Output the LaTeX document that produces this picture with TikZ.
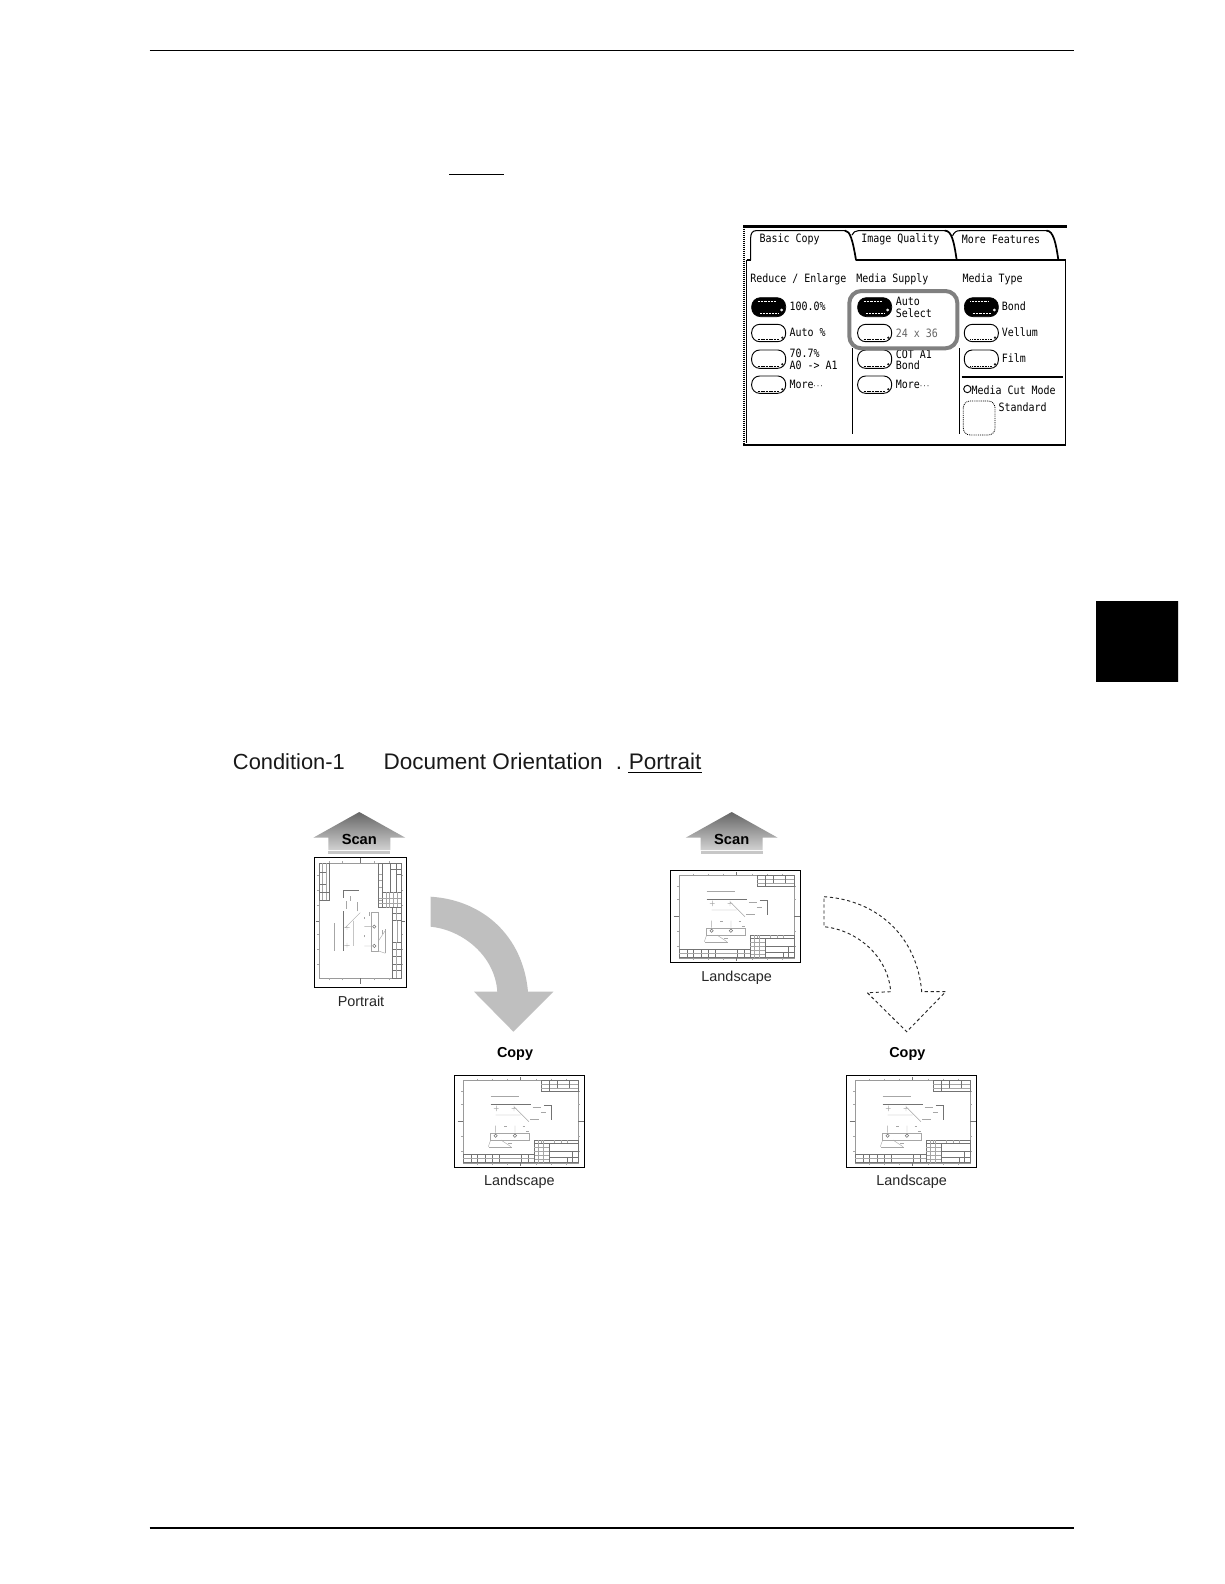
\documentclass[tikz,border=0pt]{standalone}
\usepackage{fontspec}
\setmainfont{Liberation Sans}
\newfontfamily\panelfont[FakeStretch=0.87]{DejaVu Sans Mono}
\usetikzlibrary{shapes.misc}
\definecolor{arrowgray}{HTML}{BFBFBF}
\definecolor{boxgray}{HTML}{808080}
\definecolor{linegray}{HTML}{9A9A9A}
\tikzset{
  rule/.style={line width=1.1pt,black},
  sheetbox/.style={draw=black,line width=1pt,fill=white},
  thin line/.style={line width=.3pt,draw=linegray},
  dark line/.style={line width=.4pt,draw=black!55},
  fine/.style={line width=.3pt,draw=black!35},
  title/.style={font=\fontsize{16.9}{18}\selectfont,anchor=base west,inner sep=0pt,text=black!90},
  caption/.style={font=\fontsize{10.8}{12}\selectfont,inner sep=0pt,text=black!85},
  boldlabel/.style={font=\bfseries\fontsize{10.8}{12}\selectfont,inner sep=0pt},
  ptxt/.style={font=\panelfont\fontsize{8.6}{10}\selectfont,anchor=west,inner sep=0pt,text=black},
  pillblack/.style={fill=black,draw=black,line width=.5pt,rounded corners=6.5pt},
  pillwhite/.style={fill=white,draw=black,line width=.7pt,rounded corners=6pt},
  pdot/.style={line width=.55pt,dash pattern=on .55pt off .55pt},
  panelline/.style={line width=.8pt,black},
  paneltab/.style={line width=.8pt,black,line cap=round},
  tabslant/.style={line width=1.3pt,black,line cap=round},
}
\newcommand{\sheetdetail}{%
  \draw[thin line] (27,14) rectangle (372,261);
  \foreach \tx in {70,115,160,245,290,335}{\draw[fine] (\tx,9)--(\tx,14) (\tx,261)--(\tx,267);}
  \foreach \ty in {45,85,180,225}{\draw[fine] (21,\ty)--(27,\ty) (372,\ty)--(378,\ty);}
  \draw[dark line] (199,4)--(199,14) (199,261)--(199,271) (10,137)--(27,137) (372,137)--(388,137);
  \draw[dark line] (261,14) rectangle (372,46);
  \draw[fine] (261,25)--(372,25) (261,36)--(372,36);
  \draw[dark line] (285,14)--(285,36) (310,14)--(310,36) (345,14)--(345,36) (285,36)--(285,46);
  \draw[dark line] (239,193) rectangle (372,261);
  \draw[dark line] (239,203)--(372,203) (285,203)--(285,261) (285,228)--(372,228) (285,246)--(372,246);
  \foreach \tx in {252,266}{\draw[fine] (\tx,193)--(\tx,261);}
  \foreach \ty in {215,226,238,249}{\draw[fine] (239,\ty)--(285,\ty);}
  \foreach \tx in {260,300,320,340}{\draw[fine] (\tx,193)--(\tx,203);}
  \draw[dark line] (340,246)--(340,261) (355,228)--(355,261);
  \draw[dark line] (27,235) rectangle (239,261);
  \foreach \tx in {50,70,92,113,136,200,222}{\draw[dark line] (\tx,235)--(\tx,261);}
  \draw[fine] (27,247)--(136,247) (136,248)--(200,248) (200,247)--(239,247);
  \draw[fine] (109,60)--(194,60);
  \draw[dark line] (109,86)--(229,86);
  \draw[fine] (179,93)--(224,138) (124,118)--(199,118) (126,90)--(126,106) (119,98)--(133,98) (179,90)--(179,106) (172,98)--(186,98);
  \draw[dark line] (269,88)--(291,88)--(291,133);
  \draw[fine] (235,95)--(260,95) (260,108)--(275,108) (228,130)--(255,130) (150,150)--(157,150) (205,150)--(212,150);
  \draw[fine] (109,171) rectangle (224,193);
  \draw[dark line] (124,180) circle[radius=5] (182,180) circle[radius=5];
  \draw[fine] (124,150)--(124,171) (182,150)--(182,171) (109,193)--(102,213) (140,193)--(170,213);
  \draw[fine] (160,203)--(172,203) (104,213)--(174,213) (215,165)--(225,165);
}
\begin{document}
\begin{tikzpicture}[x=.75pt,y=-.75pt]
\useasboundingbox (0,0) rectangle (1224,1584);
\fill[white] (0,0) rectangle (1224,1584);
% page rules
\coordinate (ruleTopL) at (149.5,50.5);
\coordinate (ruleTopR) at (1074,50.5);
\coordinate (ruleBotL) at (149.5,1528);
\coordinate (ruleBotR) at (1074,1528);
\draw[rule] (ruleTopL)--(ruleTopR);
\draw[rule] (ruleBotL)--(ruleBotR);
\draw[line width=.85pt] (449,174.3)--(504,174.3);
\fill[black] (1096,601) rectangle (1178,681.7);
\fill[black!15] (1178,601) rectangle (1179,681.7);
% panel
\begin{scope}[shift={(730,215)},x=.25pt,y=-.25pt]
  \draw[line width=1.8pt] (40,35)--(1010,35);
  \draw[line width=1.3pt,dash pattern=on .8pt off .7pt] (41,35)--(41,692);
  \draw[line width=1.5pt] (40,689)--(1008,689);
  \draw[panelline] (50,135)--(50,685);
  \draw[panelline] (1007,135)--(1007,688);
  \draw[panelline] (50,135)--(62,135);
  \draw[panelline] (378,135)--(1007,135);
  \draw[paneltab] (62,135)--(62,68) .. controls (62,55) and (68,47) .. (78,47)--(345,47);
  \draw[tabslant] (345,47) .. controls (360,47) and (368,75) .. (378,135);
  \draw[paneltab] (366,60) .. controls (370,52) and (375,47) .. (385,47)--(645,47);
  \draw[tabslant] (645,47) .. controls (665,47) and (672,80) .. (680,135);
  \draw[paneltab] (668,62) .. controls (672,52) and (678,47) .. (690,47)--(950,47);
  \draw[tabslant] (950,47) .. controls (970,47) and (978,85) .. (985,135);
  \node[ptxt] (tabA) at (88,72) {Basic Copy};
  \node[ptxt] (tabB) at (393,72) {Image Quality};
  \node[ptxt] (tabC) at (695,72) {More Features};
  \node[ptxt] (hA) at (60,194) {Reduce / Enlarge};
  \node[ptxt] (hB) at (378,194) {Media Supply};
  \node[ptxt] (hC) at (697,194) {Media Type};
  % separators
  \draw[panelline] (368,400)--(368,658);
  \draw[panelline] (688,400)--(688,658);
  \draw[line width=1.3pt] (695,485)--(1000,485);
  % pills
  \foreach \px in {65,383,703}{
    \draw[pillblack] (\px,248) rectangle ++(102,57);
    \draw[white,pdot] (\px+18,258)--(\px+72,258) (\px+25,295)--(\px+82,295);
    \draw[white,line width=.5pt] (\px+90,285) circle[radius=3];
    \foreach \py/\ph in {328/52,405/55}{
      \draw[pillwhite] (\px,\py) rectangle ++(102,\ph);
      \draw[line width=.9pt,dash pattern=on .8pt off .4pt] (\px+18,\py+\ph-6)--(\px+82,\py+\ph-6);
      \draw[line width=.4pt] (\px+92,\py+\ph-12) circle[radius=2.5];
    }
  }
  \foreach \px in {65,383}{
    \draw[pillwhite] (\px,483) rectangle ++(102,52);
    \draw[line width=.9pt,dash pattern=on .8pt off .4pt] (\px+18,529)--(\px+82,529);
    \draw[line width=.4pt] (\px+92,523) circle[radius=2.5];
  }
  \node[ptxt] (a1) at (178,275) {100.0\%};
  \node[ptxt] (a2) at (178,352) {Auto \%};
  \node[ptxt] (a3) at (178,415) {70.7\%};
  \node[ptxt] (a4) at (178,450) {A0 -> A1};
  \node[ptxt] (a5) at (178,507) {More\kern-.5pt{\fontsize{5}{6}\selectfont ···}};
  \node[ptxt] (b1) at (497,258) {Auto};
  \node[ptxt] (b2) at (497,295) {Select};
  \node[ptxt,text=black!60] (b3) at (497,355) {24 x 36};
  \node[ptxt] (b4) at (497,418) {COT A1};
  \node[ptxt] (b5) at (497,452) {Bond};
  \node[ptxt] (b6) at (497,507) {More\kern-.5pt{\fontsize{5}{6}\selectfont ···}};
  \node[ptxt] (c1) at (815,275) {Bond};
  \node[ptxt] (c2) at (815,352) {Vellum};
  \node[ptxt] (c3) at (815,430) {Film};
  \draw[line width=.7pt] (712,522) circle[radius=11];
  \node[ptxt] (c4) at (724,525) {Media Cut Mode};
  \draw[line width=.6pt,dash pattern=on .7pt off .7pt,rounded corners=5pt] (700,558) rectangle (795,660);
  \node[ptxt] (c5) at (805,578) {Standard};
  \draw[boxgray,line width=3pt,rounded corners=9pt] (358,228) rectangle (682,400);
\end{scope}
% heading
\node[title,font=\fontsize{16.4}{18}\selectfont] (condA) at (232.7,769) {Condition-1};
\node[title] (condB) at (383.3,769) {Document Orientation};
\node[title] (condC) at (615.5,769) {.};
\node[title] (condD) at (628.5,769) {Portrait};
\draw[line width=.85pt] (628.3,772.5)--(702,772.5);
% scan arrows
\foreach \ax/\nm in {359.3/scanL,731.7/scanR}{
  \shade[top color=black!60,bottom color=black!18]
    (\ax,812)--(\ax+46,837.7)--(\ax+31,837.7)--(\ax+31,850)--(\ax-31,850)--(\ax-31,837.7)--(\ax-46,837.7)--cycle;
  \fill[black!22] (\ax-31,851.2) rectangle (\ax+31,854);
  \node[boldlabel,font=\bfseries\fontsize{11}{12}\selectfont,text=black] (\nm) at (\ax,839) {Scan};
}
% sheets
\draw[sheetbox] (314.3,857.3) rectangle (406.7,987.3);
\begin{scope}[shift={(314.3,987.3)},x={(0pt,.25pt)},y={(.25pt,0pt)}]
  \sheetdetail
\end{scope}
\foreach \sx/\sy in {670.3/870.7,454.3/1075.7,846.3/1075.7}{
  \draw[sheetbox] (\sx,\sy) rectangle ++(130,91.7);
  \begin{scope}[shift={(\sx,\sy)},x=.25pt,y=-.25pt]
    \sheetdetail
  \end{scope}
}
\node[caption] (capP) at (361,1001) {Portrait};
\node[caption] (capL1) at (736.7,977.5) {Landscape};
\node[caption] (capL2) at (519.3,1181.5) {Landscape};
\node[caption] (capL3) at (911.7,1181.5) {Landscape};
\node[boldlabel] (copyL) at (515,1053.5) {Copy};
\node[boldlabel] (copyR) at (907.3,1053.5) {Copy};
% curved arrows
\fill[arrowgray] (430.7,896.7) .. controls (483,900) and (523,936) .. (528,991.7)
  -- (553.3,991.7) -- (513.4,1031.7) -- (474,991.7) -- (497.3,991.7)
  .. controls (495,956) and (463,930) .. (430.7,926.7) -- cycle;
\draw[line width=.7pt,dash pattern=on 2.4pt off 2pt,black!85] (824,896.7) .. controls (877,900) and (917,936) .. (921.7,991.7)
  -- (945.7,991.7) -- (906.7,1031.7) -- (867.3,992.7) -- (890.7,991.7)
  .. controls (888,956) and (857,930) .. (824,926.7) -- cycle;
\end{tikzpicture}
\end{document}
